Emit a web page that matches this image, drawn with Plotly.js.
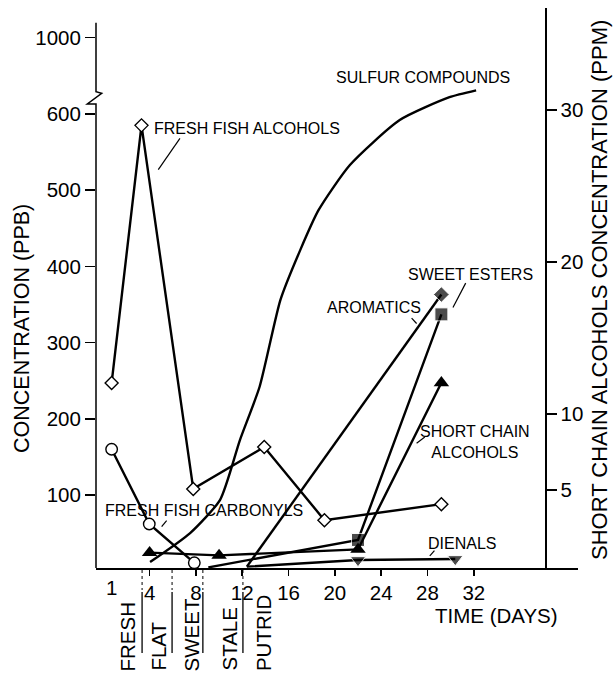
<!DOCTYPE html>
<html><head><meta charset="utf-8">
<script src="https://cdn.plot.ly/plotly-3.0.1.min.js"></script>
<style>html,body{margin:0;padding:0;background:#fff}#chart{width:613px;height:674px}</style>
</head><body><div id="chart"></div>
<script>
// ---- data ----
const alcoholsDays = [0.72, 3.3, 7.77, 13.9, 19.1, 29.2];
const alcoholsPPB  = [247, 585, 108, 163, 67, 88];
const carbonylsDays = [0.72, 3.97, 7.86];
const carbonylsPPB  = [160, 62, 11];
const sulfurDays = [4.04, 7.5, 10.1, 11.8, 13.5, 15.3, 17.0, 18.6, 21.3, 25.6, 29.9, 32.2];
const sulfurPPB  = [12, 50, 94, 172, 242, 356, 421, 474, 533, 592, 622, 631];
const aromaticsDays = [12.4, 29.2];
const aromaticsPPB  = [6, 363];
const estersDays = [9.07, 22.0, 29.2];
const estersPPB  = [5, 41, 337];
const scaDays = [4.0, 10.0, 22.0, 29.2];
const scaPPM  = [0.88, 0.7, 1.09, 12.05];
const dienalsDays = [12.4, 22.0, 30.4];
const dienalsPPB  = [6, 14.7, 16];

const xTickVals = [4, 8, 12, 16, 20, 24, 28, 32];
const yTickVals = [100, 200, 300, 400, 500, 600, 700];
const yTickText = ['100', '200', '300', '400', '500', '600', '1000'];
const y2TickVals = [5, 10, 20, 30];
const stageLabels = ['FRESH', 'FLAT', 'SWEET', 'STALE', 'PUTRID'];
const stageCentres = [2.13, 4.73, 7.66, 10.86, 13.8];
const stageBounds = [3.35, 5.94, 8.6, 12.06];

// ---- layout geometry ----
const L = 96, R = 578, T = 8, B = 568, W = R - L, H = B - T;
const px = x => (x - L) / W;
const py = y => (B - y) / H;
const FONT = 'Liberation Sans, Arial, Helvetica, sans-serif';
const LW = 2.4;

const traces = [
  {x: sulfurDays, y: sulfurPPB, mode: 'lines', line: {color: '#000', width: LW, shape: 'spline', smoothing: 0.6}},
  {x: aromaticsDays, y: aromaticsPPB, mode: 'lines+markers', line: {color: '#000', width: LW},
   marker: {symbol: 'diamond', size: [0, 12], color: '#000'}},
  {x: estersDays, y: estersPPB, mode: 'lines+markers', line: {color: '#000', width: LW},
   marker: {symbol: 'square', size: [0, 13, 13], color: '#000'}},
  {x: scaDays, y: scaPPM, yaxis: 'y2', mode: 'lines+markers', line: {color: '#000', width: LW},
   marker: {symbol: 'triangle-up', size: 13.5, color: '#000'}},
  {x: dienalsDays, y: dienalsPPB, mode: 'lines+markers', line: {color: '#000', width: LW},
   marker: {symbol: 'triangle-down', size: [0, 13.5, 13.5], color: '#000'}},
  {x: carbonylsDays, y: carbonylsPPB, mode: 'lines+markers', line: {color: '#000', width: LW},
   marker: {symbol: 'circle', size: 11.5, color: '#fff', line: {color: '#000', width: 1.4}}},
  {x: alcoholsDays, y: alcoholsPPB, mode: 'lines+markers', line: {color: '#000', width: LW},
   marker: {symbol: 'diamond', size: 10, color: '#fff', line: {color: '#000', width: 1.4}}}
];

const shapes = [];
// left axis with break
shapes.push({type: 'path', xref: 'paper', yref: 'paper', line: {color: '#000', width: 1.5},
  path: `M${px(96)},${py(22.7)} L${px(96)},${py(91.7)} L${px(101.7)},${py(93.3)} L${px(87.3)},${py(104)} L${px(96)},${py(104)} L${px(96)},${py(568)}`});
// stage dotted and solid separators
stageBounds.forEach(d => {
  shapes.push({type: 'line', xref: 'x', yref: 'paper', x0: d, x1: d, y0: py(570), y1: py(590), line: {color: '#000', width: 1, dash: 'dot'}});
  shapes.push({type: 'line', xref: 'x', yref: 'paper', x0: d, x1: d, y0: py(592), y1: py(653), line: {color: '#000', width: 1.3}});
});
// leader lines for labels
const leaders = [
  [6.62, 568, 4.75, 527],
  [5.04, 58.4, 5.47, 66.3],
  [31.3, 378, 30.2, 346],
  [26.63, 332, 27.06, 325],
  [27.06, 168, 27.77, 176],
  [28.2, 20, 28.6, 27]
];
leaders.forEach(l => shapes.push({type: 'line', xref: 'x', yref: 'y', x0: l[0], y0: l[1], x1: l[2], y1: l[3], line: {color: '#000', width: 1.2}}));

const annFont = {family: FONT, size: 16, color: '#000'};
const annotations = [
  {text: 'FRESH FISH ALCOHOLS', x: 4.18, y: 581, xanchor: 'left'},
  {text: 'FRESH FISH CARBONYLS', x: 0.0, y: 80, xanchor: 'left'},
  {text: 'SULFUR COMPOUNDS', x: 27.6, y: 648, xanchor: 'center'},
  {text: 'SWEET ESTERS', x: 31.7, y: 389, xanchor: 'center'},
  {text: 'AROMATICS', x: 23.4, y: 346, xanchor: 'center'},
  {text: 'SHORT CHAIN<br>ALCOHOLS', x: 32.1, y: 170, xanchor: 'center'},
  {text: 'DIENALS', x: 30.95, y: 36.6, xanchor: 'center'}
].map(a => Object.assign({xref: 'x', yref: 'y', showarrow: false, yanchor: 'middle', font: annFont}, a));

const bigFont = {family: FONT, size: 20.5, color: '#000'};
annotations.push({text: '1', xref: 'x', yref: 'paper', x: 0.75, y: py(574), yanchor: 'top', xanchor: 'center', showarrow: false, font: bigFont});
annotations.push({text: 'TIME (DAYS)', xref: 'x', yref: 'paper', x: 34.0, y: py(602), yanchor: 'top', xanchor: 'center', showarrow: false, font: bigFont});
annotations.push({text: 'CONCENTRATION (PPB)', xref: 'paper', yref: 'paper', x: px(22), y: py(329), textangle: -90, xanchor: 'center', yanchor: 'middle', showarrow: false, font: {family: FONT, size: 21.5, color: '#000'}});
annotations.push({text: 'SHORT CHAIN ALCOHOLS CONCENTRATION (PPM)', xref: 'paper', yref: 'paper', x: px(599), y: py(290), textangle: -90, xanchor: 'center', yanchor: 'middle', showarrow: false, font: {family: FONT, size: 22, color: '#000'}});
stageLabels.forEach((s, i) => annotations.push({text: s, xref: 'x', yref: 'paper', x: stageCentres[i], y: py(673), textangle: -90, xanchor: 'center', yanchor: 'bottom', showarrow: false, font: bigFont}));

const xr = [-0.63, 41.0];
const yr = [4.2, 739];
const y2r = [-0.13, 36.7];

const layout = {
  width: 613, height: 674,
  margin: {l: L, r: 613 - R, t: T, b: 674 - B},
  paper_bgcolor: '#fff', plot_bgcolor: 'rgba(0,0,0,0)',
  showlegend: false,
  font: {family: FONT, color: '#000'},
  xaxis: {range: xr, tickvals: xTickVals, ticks: 'outside', ticklen: 6, tickwidth: 1.5, tickcolor: '#000',
    showline: true, linewidth: 1.5, linecolor: '#000', showgrid: false, zeroline: false,
    tickfont: bigFont, fixedrange: true},
  xaxis2: {range: xr, overlaying: 'x', anchor: 'y', tickvals: xTickVals, ticks: 'inside', ticklen: 5, tickwidth: 1.5, tickcolor: '#000',
    showticklabels: false, showline: false, showgrid: false, zeroline: false},
  yaxis: {range: yr, tickvals: yTickVals, ticktext: yTickText, ticks: 'outside', ticklen: 10, tickwidth: 1.5, tickcolor: '#000',
    showline: false, showgrid: false, zeroline: false, tickfont: bigFont},
  yaxis3: {range: yr, overlaying: 'y', anchor: 'x', side: 'left', tickvals: yTickVals, ticks: 'inside', ticklen: 9, tickwidth: 1.5, tickcolor: '#000',
    showticklabels: false, showline: false, showgrid: false, zeroline: false},
  yaxis2: {range: y2r, overlaying: 'y', anchor: 'free', position: px(545), side: 'right', tickvals: y2TickVals,
    ticks: 'outside', ticklen: 10, tickwidth: 1.5, tickcolor: '#000', showline: true, linewidth: 1.5, linecolor: '#000',
    showgrid: false, zeroline: false, tickfont: bigFont},
  yaxis4: {range: y2r, overlaying: 'y', anchor: 'free', position: px(545), side: 'left', tickvals: y2TickVals,
    ticks: 'outside', ticklen: 10, tickwidth: 1.5, tickcolor: '#000', showticklabels: false, showline: false,
    showgrid: false, zeroline: false},
  shapes: shapes,
  annotations: annotations
};

Plotly.newPlot('chart', traces, layout, {staticPlot: true, displayModeBar: false});
</script></body></html>
